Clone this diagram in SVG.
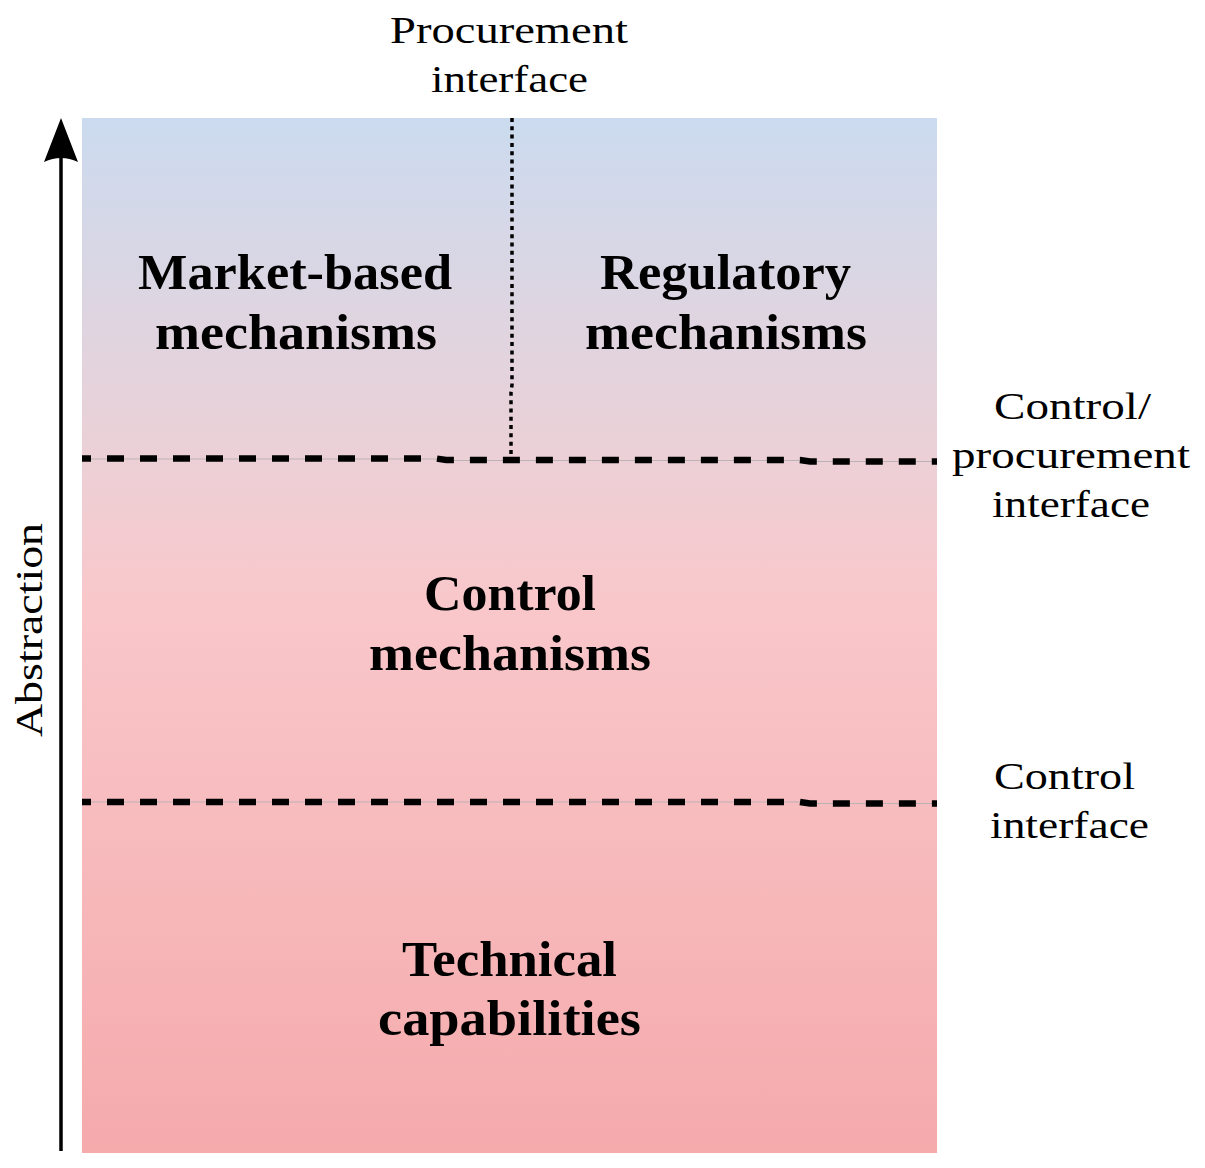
<svg xmlns="http://www.w3.org/2000/svg" width="1205" height="1168" viewBox="0 0 1205 1168">
  <defs>
    <linearGradient id="bg" x1="0" y1="0" x2="0" y2="1">
      <stop offset="0" stop-color="#cbdbef"/>
      <stop offset="0.33" stop-color="#ecd0d6"/>
      <stop offset="0.47" stop-color="#f9c7ca"/>
      <stop offset="1" stop-color="#f5aaac"/>
    </linearGradient>
    <style>
      .lbl { font-family: "Liberation Serif", "DejaVu Serif", serif; font-size: 38px; fill: #000; text-anchor: middle; }
      .big { font-family: "Liberation Serif", "DejaVu Serif", serif; font-size: 50px; font-weight: bold; fill: #000; text-anchor: middle; }
      .guide { fill: none; stroke: #b9b3b5; stroke-width: 1; }
      .dash { fill: none; stroke: #000; stroke-width: 6.5; stroke-dasharray: 17 16; }
      .dot { fill: none; stroke: #000; stroke-width: 3.5; stroke-dasharray: 4 4.3; }
    </style>
  </defs>
  <rect width="1205" height="1168" fill="#ffffff"/>

  <g id="layers-background">
    <rect x="82" y="118" width="855" height="1035" fill="url(#bg)"/>
  </g>

  <g id="connectors">
    <line x1="61" y1="1151" x2="61" y2="150" stroke="#000" stroke-width="3.5"/>
    <path d="M61,118 L78,162 Q61,154 44,162 Z" fill="#000"/>
    <polyline class="guide" points="82,459 436,459 446,460.5 800,460.5 810,461.5 937,461.5"/>
    <polyline class="dash" points="82,458.5 436,458.5 446,460 800,460 810,461.5 937,461.5" stroke-dashoffset="8"/>
    <polyline class="guide" points="82,802 800,802 810,803.5 937,803.5"/>
    <polyline class="dash" points="82,802 800,802 810,803.5 937,803.5" stroke-dashoffset="8"/>
    <polyline class="dot" points="512,118 512,385 511,392 511,458"/>
  </g>

  <g id="axis-label">
    <text class="lbl" transform="translate(42,630) rotate(-90)" textLength="214" lengthAdjust="spacingAndGlyphs">Abstraction</text>
  </g>

  <g id="procurement-interface">
    <text class="lbl" x="509" y="43" textLength="238" lengthAdjust="spacingAndGlyphs">Procurement</text>
    <text class="lbl" x="509.5" y="91.5" textLength="157" lengthAdjust="spacingAndGlyphs">interface</text>
  </g>

  <g id="market-based">
    <text class="big" x="295" y="289" textLength="314" lengthAdjust="spacingAndGlyphs">Market-based</text>
    <text class="big" x="296" y="349" textLength="282" lengthAdjust="spacingAndGlyphs">mechanisms</text>
  </g>

  <g id="regulatory">
    <text class="big" x="725.5" y="289" textLength="251" lengthAdjust="spacingAndGlyphs">Regulatory</text>
    <text class="big" x="726" y="349" textLength="282" lengthAdjust="spacingAndGlyphs">mechanisms</text>
  </g>

  <g id="control-mechanisms">
    <text class="big" x="510" y="610" textLength="172" lengthAdjust="spacingAndGlyphs">Control</text>
    <text class="big" x="510" y="670" textLength="282" lengthAdjust="spacingAndGlyphs">mechanisms</text>
  </g>

  <g id="technical-capabilities">
    <text class="big" x="509.5" y="976" textLength="215" lengthAdjust="spacingAndGlyphs">Technical</text>
    <text class="big" x="509.5" y="1035" textLength="263" lengthAdjust="spacingAndGlyphs">capabilities</text>
  </g>

  <g id="control-procurement-interface">
    <text class="lbl" x="1072.5" y="419" textLength="157" lengthAdjust="spacingAndGlyphs">Control/</text>
    <text class="lbl" x="1071" y="468" textLength="238" lengthAdjust="spacingAndGlyphs">procurement</text>
    <text class="lbl" x="1071" y="517" textLength="158" lengthAdjust="spacingAndGlyphs">interface</text>
  </g>

  <g id="control-interface">
    <text class="lbl" x="1064.5" y="789" textLength="141" lengthAdjust="spacingAndGlyphs">Control</text>
    <text class="lbl" x="1069.5" y="838" textLength="159" lengthAdjust="spacingAndGlyphs">interface</text>
  </g>
</svg>
